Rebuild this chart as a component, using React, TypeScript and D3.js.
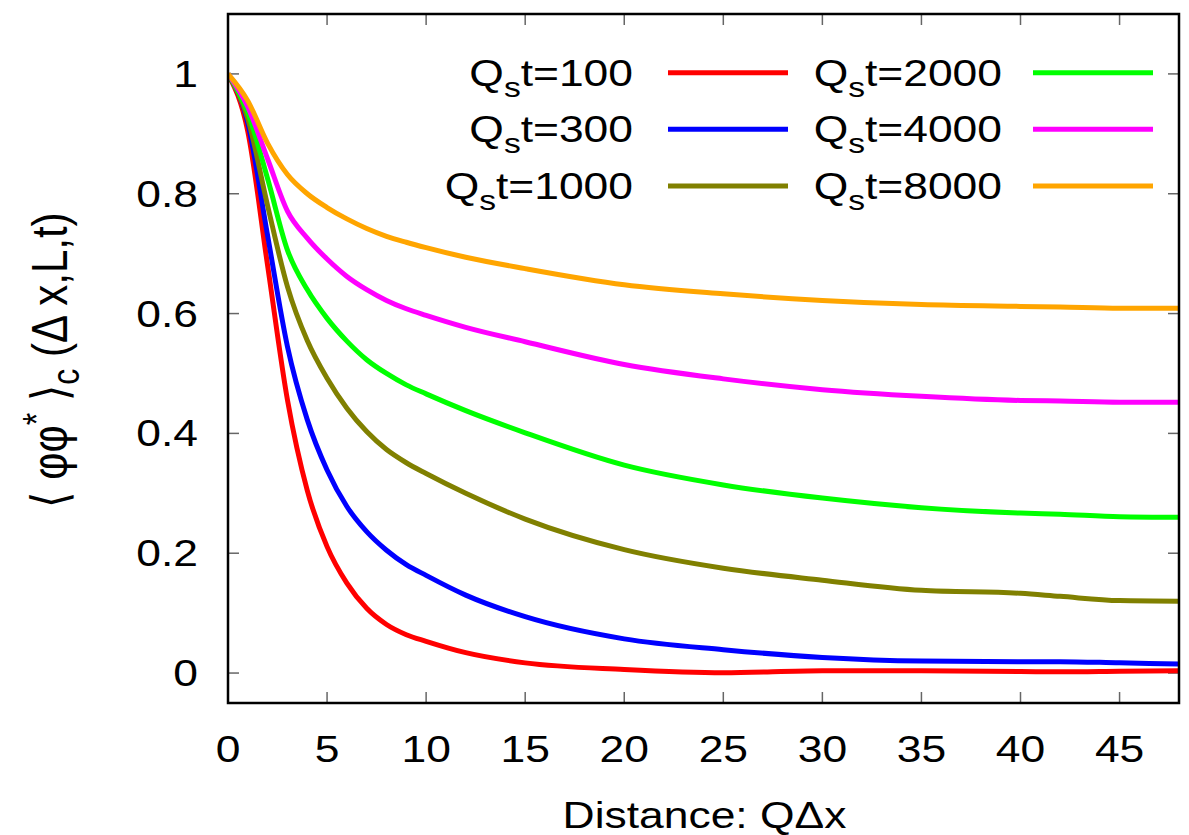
import React, { useEffect, useRef } from "react";
import * as d3 from "d3";

const xs = [0, 1, 2, 3, 4, 5, 6, 7, 8, 9, 10, 12, 15, 20, 25, 30, 35, 40, 42, 45, 48];
const red100 = [1, 0.904, 0.68, 0.456, 0.305, 0.211, 0.15, 0.108, 0.081, 0.064, 0.053, 0.034, 0.017, 0.006, 0.0005, 0.004, 0.004, 0.0025, 0.002, 0.003, 0.004];
const blue300 = [1, 0.918, 0.73, 0.545, 0.423, 0.339, 0.278, 0.236, 0.205, 0.181, 0.163, 0.13, 0.094, 0.057, 0.039, 0.026, 0.02, 0.019, 0.019, 0.017, 0.015];
const olive1000 = [1, 0.925, 0.78, 0.645, 0.555, 0.492, 0.442, 0.403, 0.373, 0.351, 0.333, 0.3, 0.257, 0.206, 0.175, 0.155, 0.138, 0.133, 0.128, 0.121, 0.12];
const green2000 = [1, 0.935, 0.825, 0.706, 0.64, 0.592, 0.554, 0.523, 0.5, 0.481, 0.466, 0.438, 0.401, 0.347, 0.314, 0.292, 0.276, 0.267, 0.265, 0.261, 0.26];
const magenta4000 = [1, 0.945, 0.858, 0.771, 0.726, 0.691, 0.662, 0.64, 0.622, 0.608, 0.597, 0.577, 0.553, 0.515, 0.491, 0.473, 0.462, 0.455, 0.454, 0.452, 0.452];
const orange8000 = [1, 0.955, 0.884, 0.832, 0.8, 0.777, 0.758, 0.742, 0.729, 0.719, 0.71, 0.694, 0.675, 0.648, 0.633, 0.622, 0.615, 0.612, 0.611, 0.609, 0.609];

const seriesLabels = ["100", "300", "1000", "2000", "4000", "8000"];
const seriesColors = ["#ff0000", "#0000ff", "#808000", "#00ff00", "#ff00ff", "#ffa500"];
const seriesValues = [red100, blue300, olive1000, green2000, magenta4000, orange8000];

const xTicks = [0, 5, 10, 15, 20, 25, 30, 35, 40, 45];
const yTicks = [0, 0.2, 0.4, 0.6, 0.8, 1];

const W = 1189;
const H = 835;
const M = { left: 228, right: 1179, top: 14, bottom: 703 };
const FONT = "'Liberation Sans', Arial, Helvetica, sans-serif";
const FS = 37;
const SX = 1.2;

export default function App() {
  const ref = useRef<SVGSVGElement>(null);

  useEffect(() => {
    const svg = d3.select(ref.current);
    svg.selectAll("*").remove();

    const x = d3.scaleLinear().domain([0, 48]).range([M.left, M.right]);
    const y = d3.scaleLinear().domain([-0.05, 1.1]).range([M.bottom, M.top]);

    const addText = (px: number, py: number, anchor: string) =>
      svg.append("text")
        .attr("transform", `translate(${px},${py}) scale(${SX},1)`)
        .attr("text-anchor", anchor)
        .attr("font-family", FONT)
        .attr("font-size", FS)
        .attr("fill", "#000");

    const g = svg.append("g");
    const tl = 11;
    const tickColor = "#666";
    xTicks.forEach((t) => {
      g.append("line").attr("x1", x(t)).attr("x2", x(t)).attr("y1", M.bottom).attr("y2", M.bottom - tl).attr("stroke", tickColor).attr("stroke-width", 1.5);
      g.append("line").attr("x1", x(t)).attr("x2", x(t)).attr("y1", M.top).attr("y2", M.top + tl).attr("stroke", tickColor).attr("stroke-width", 1.5);
      addText(x(t), 762, "middle").text(String(t));
    });
    yTicks.forEach((t) => {
      g.append("line").attr("x1", M.left).attr("x2", M.left + tl).attr("y1", y(t)).attr("y2", y(t)).attr("stroke", tickColor).attr("stroke-width", 1.5);
      g.append("line").attr("x1", M.right).attr("x2", M.right - tl).attr("y1", y(t)).attr("y2", y(t)).attr("stroke", tickColor).attr("stroke-width", 1.5);
      addText(198, y(t) + 13, "end").text(String(t));
    });

    svg.append("defs").append("clipPath").attr("id", "plotclip").append("rect")
      .attr("x", M.left).attr("y", M.top).attr("width", M.right - M.left).attr("height", M.bottom - M.top);

    const line = d3.line<[number, number]>().x((d) => x(d[0])).y((d) => y(d[1])).curve(d3.curveMonotoneX);
    const lg = svg.append("g").attr("clip-path", "url(#plotclip)");
    seriesValues.forEach((vals, i) => {
      const pts: [number, number][] = xs.map((xv, j) => [xv, vals[j]]);
      lg.append("path").attr("d", line(pts)).attr("fill", "none").attr("stroke", seriesColors[i]).attr("stroke-width", 5).attr("stroke-linejoin", "round");
    });

    const rowY = [72.7, 129.3, 186];
    seriesLabels.forEach((lab, i) => {
      const col = Math.floor(i / 3);
      const row = i % 3;
      const textRight = col === 0 ? 633 : 1002;
      const lx1 = col === 0 ? 668 : 1033;
      const lx2 = col === 0 ? 788 : 1153;
      const ty = rowY[row];
      const t = addText(textRight, ty + 13, "end");
      t.append("tspan").text("Q");
      t.append("tspan").attr("font-size", 28).attr("dy", 11).text("s");
      t.append("tspan").attr("dy", -11).text("t=" + lab);
      svg.append("line").attr("x1", lx1).attr("x2", lx2).attr("y1", ty).attr("y2", ty).attr("stroke", seriesColors[i]).attr("stroke-width", 5);
    });

    svg.append("rect").attr("x", M.left).attr("y", M.top).attr("width", M.right - M.left).attr("height", M.bottom - M.top).attr("fill", "none").attr("stroke", "#000").attr("stroke-width", 2.5);

    addText((M.left + M.right) / 2 + 1, 828, "middle").text("Distance: QΔx");

    const yt = svg.append("text")
      .attr("transform", `translate(67,360) rotate(-90) scale(1,${SX})`)
      .attr("text-anchor", "middle").attr("font-family", FONT).attr("font-size", 42).attr("fill", "#000");
    yt.append("tspan").text("⟨ φφ");
    yt.append("tspan").attr("dy", -14).attr("font-size", 32).text("*");
    yt.append("tspan").attr("dy", 14).text(" ⟩");
    yt.append("tspan").attr("dy", 10).attr("font-size", 32).text("c");
    yt.append("tspan").attr("dy", -10).text(" (Δ x,L,t)");
  }, []);

  return (
    <svg ref={ref} width={W} height={H} style={{ position: "absolute", left: 0, top: 0, background: "#fff" }} />
  );
}
